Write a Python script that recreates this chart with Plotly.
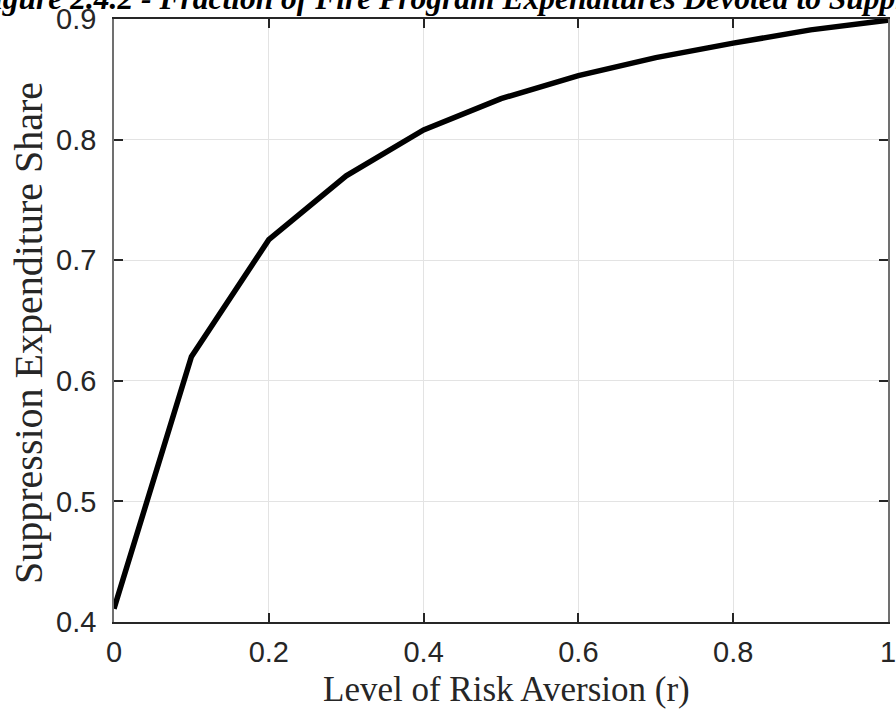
import plotly.graph_objects as go

risk_aversion = [0.0, 0.1, 0.2, 0.3, 0.4, 0.5, 0.6, 0.7, 0.8, 0.9, 1.0]
suppression_share = [0.411, 0.620, 0.717, 0.770, 0.808, 0.834, 0.853, 0.868, 0.880, 0.891, 0.899]

x_ticks = [0, 0.2, 0.4, 0.6, 0.8, 1.0]
x_tick_labels = ["0", "0.2", "0.4", "0.6", "0.8", "1"]
y_ticks = [0.4, 0.5, 0.6, 0.7, 0.8, 0.9]
y_tick_labels = ["0.4", "0.5", "0.6", "0.7", "0.8", "0.9"]

title_text = "Figure 2.4.2 - Fraction of Fire Program Expenditures Devoted to Suppression"
x_title = "Level of Risk Aversion (r)"
y_title = "Suppression Expenditure Share"

W, H = 896, 715
L, R, T, B = 114, 8, 19, 93
pw, ph = W - L - R, H - T - B

def px_x(p):
    return (p - L) / pw

def px_y(p):
    return 1 - (p - T) / ph

fig = go.Figure()
fig.add_trace(go.Scatter(
    x=risk_aversion, y=suppression_share, mode="lines",
    line=dict(color="black", width=5.5), showlegend=False, cliponaxis=False,
))

tick_font = dict(family="Liberation Sans, Arial, sans-serif", size=29, color="#262626")

fig.update_layout(
    width=W, height=H,
    margin=dict(l=L, r=R, t=T, b=B, pad=0, autoexpand=False),
    paper_bgcolor="white", plot_bgcolor="white",
    xaxis=dict(
        range=[0, 1], tickvals=x_ticks, ticktext=x_tick_labels,
        showgrid=True, gridcolor="#e3e3e3", gridwidth=1,
        ticks="inside", ticklen=9, tickwidth=2, tickcolor="#262626",
        showline=True, linecolor="#262626", linewidth=2, mirror="allticks",
        tickfont=tick_font, ticklabelstandoff=3, ticklabeloverflow="allow",
        zeroline=False, automargin=False,
    ),
    yaxis=dict(
        range=[0.4, 0.9], tickvals=y_ticks, ticktext=y_tick_labels,
        showgrid=True, gridcolor="#e3e3e3", gridwidth=1,
        ticks="inside", ticklen=9, tickwidth=2, tickcolor="#262626",
        showline=True, linecolor="#707070", linewidth=1.5, mirror="allticks",
        tickfont=tick_font, ticklabelstandoff=10, ticklabeloverflow="allow",
        zeroline=False, automargin=False,
    ),
    annotations=[
        dict(text="<b><i>" + title_text + "</i></b>", xref="paper", yref="paper",
             x=px_x(-30), y=px_y(18), xanchor="left", yanchor="bottom",
             showarrow=False, font=dict(family="Liberation Serif, Times New Roman, serif", size=31.5, color="black")),
        dict(text=x_title, xref="paper", yref="paper",
             x=px_x(506), y=px_y(689), xanchor="center", yanchor="middle",
             showarrow=False, font=dict(family="Liberation Serif, Times New Roman, serif", size=35, color="#262626")),
        dict(text=y_title, xref="paper", yref="paper",
             x=px_x(28), y=px_y(333), xanchor="center", yanchor="middle", textangle=-90,
             showarrow=False, font=dict(family="Liberation Serif, Times New Roman, serif", size=40, color="#262626")),
    ],
)

fig.write_html("out.html")
